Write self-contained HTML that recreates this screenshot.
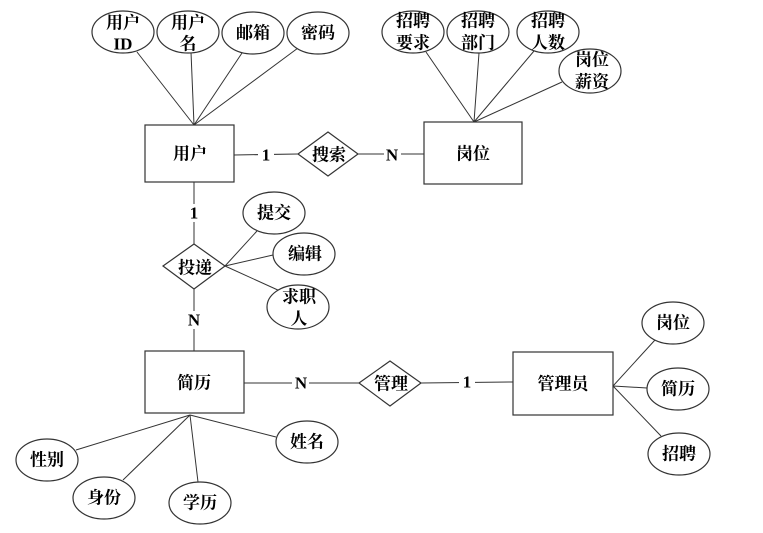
<!DOCTYPE html>
<html><head><meta charset="utf-8"><style>
html,body{margin:0;padding:0;background:#fff;}
svg{display:block;}
text{font-family:"Liberation Serif","Noto Serif CJK SC",serif;font-weight:bold;font-size:17px;fill:#000;text-anchor:middle;dominant-baseline:central;}
.l{stroke:#333;stroke-width:1;fill:none;}
.s{stroke:#333;stroke-width:1.2;fill:#fff;}
</style></head><body>
<svg width="763" height="533" viewBox="0 0 763 533" xmlns="http://www.w3.org/2000/svg">
<!-- user attribute lines -->
<path class="l" d="M137,52 L194,125 M191,52 L194,125 M242,53 L194,125 M298,48 L194,125"/>
<path class="l" d="M426,52 L474,122 M479,53 L474,122 M534,51 L474,122 M562,82 L474,122"/>
<path class="l" d="M234,155 L298,154 M358,154 L424,154"/>
<path class="l" d="M194,182 L194,244 M194,289 L194,351"/>
<path class="l" d="M225,266 L257,231 M225,266 L273,255 M225,266 L280,291"/>
<path class="l" d="M244,383 L359,383 M421,383 L513,382"/>
<path class="l" d="M190,415 L76,450 M190,415 L123,480 M190,415 L198,482 M190,415 L276,437"/>
<path class="l" d="M613,386 L655,340 M613,386 L647,388 M613,386 L661,436"/>
<!-- label backgrounds -->
<rect x="258" y="146" width="16" height="18" fill="#fff"/>
<rect x="384" y="146" width="17" height="18" fill="#fff"/>
<rect x="186" y="204" width="16" height="18" fill="#fff"/>
<rect x="186" y="311" width="17" height="18" fill="#fff"/>
<rect x="292" y="374" width="17" height="18" fill="#fff"/>
<rect x="459" y="373" width="16" height="18" fill="#fff"/>
<text x="266" y="155">1</text>
<text x="392" y="155">N</text>
<text x="194" y="213">1</text>
<text x="194" y="320">N</text>
<text x="301" y="383">N</text>
<text x="467" y="382">1</text>
<!-- entities -->
<rect class="s" x="145" y="125" width="89" height="57"/><text x="190" y="154">用户</text>
<rect class="s" x="424" y="122" width="98" height="62"/><text x="473" y="154">岗位</text>
<rect class="s" x="145" y="351" width="99" height="62"/><text x="194" y="383">简历</text>
<rect class="s" x="513" y="352" width="100" height="63"/><text x="563" y="384">管理员</text>
<!-- relations -->
<polygon class="s" points="298,154 328,132 358,154 328,176"/><text x="329" y="155">搜索</text>
<polygon class="s" points="163,266 194,244 225,266 194,289"/><text x="195" y="268">投递</text>
<polygon class="s" points="359,383 390,361 421,383 390,406"/><text x="391" y="384">管理</text>
<!-- attributes -->
<ellipse class="s" cx="123" cy="32" rx="31" ry="21"/><text x="123" y="23">用户</text><text x="123" y="44">ID</text>
<ellipse class="s" cx="188" cy="32" rx="31" ry="21"/><text x="188" y="23">用户</text><text x="188" y="44">名</text>
<ellipse class="s" cx="253" cy="33" rx="31" ry="21"/><text x="253" y="33">邮箱</text>
<ellipse class="s" cx="318" cy="33" rx="31" ry="21"/><text x="318" y="33">密码</text>
<ellipse class="s" cx="413" cy="32" rx="31" ry="21"/><text x="413" y="21">招聘</text><text x="413" y="43">要求</text>
<ellipse class="s" cx="478" cy="32" rx="31" ry="21"/><text x="478" y="21">招聘</text><text x="478" y="43">部门</text>
<ellipse class="s" cx="548" cy="32" rx="31" ry="21"/><text x="548" y="21">招聘</text><text x="548" y="43">人数</text>
<ellipse class="s" cx="590" cy="71" rx="31" ry="22"/><text x="592" y="60">岗位</text><text x="592" y="82">薪资</text>
<ellipse class="s" cx="274" cy="213" rx="31" ry="21"/><text x="274" y="213">提交</text>
<ellipse class="s" cx="304" cy="254" rx="31" ry="21"/><text x="305" y="254">编辑</text>
<ellipse class="s" cx="298" cy="307" rx="31" ry="22"/><text x="299" y="297">求职</text><text x="299" y="319">人</text>
<ellipse class="s" cx="47" cy="460" rx="31" ry="21"/><text x="47" y="460">性别</text>
<ellipse class="s" cx="104" cy="498" rx="31" ry="21"/><text x="104" y="498">身份</text>
<ellipse class="s" cx="200" cy="503" rx="31" ry="21"/><text x="200" y="503">学历</text>
<ellipse class="s" cx="307" cy="442" rx="31" ry="21"/><text x="307" y="442">姓名</text>
<ellipse class="s" cx="673" cy="323" rx="31" ry="21"/><text x="673" y="323">岗位</text>
<ellipse class="s" cx="678" cy="389" rx="31" ry="21"/><text x="678" y="389">简历</text>
<ellipse class="s" cx="679" cy="454" rx="31" ry="21"/><text x="679" y="454">招聘</text>
</svg>
</body></html>
